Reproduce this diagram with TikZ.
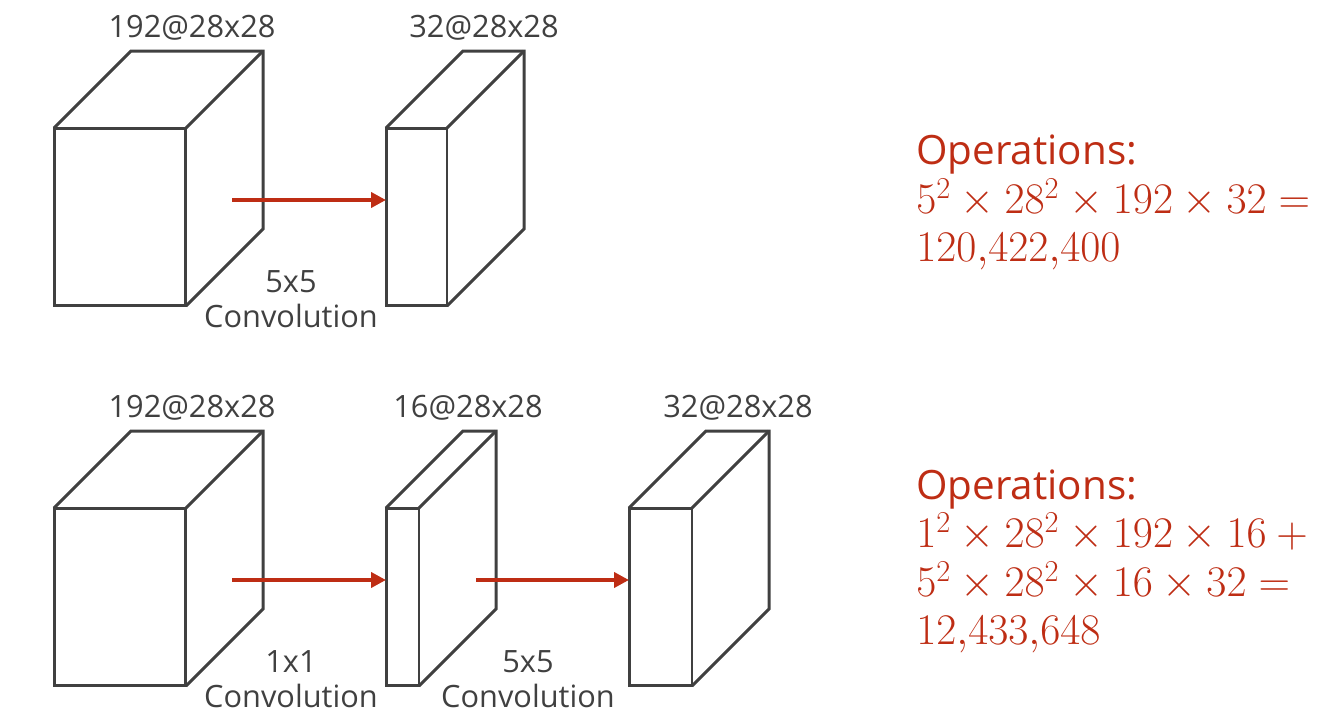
\documentclass[tikz,border=0pt]{standalone}
\usepackage[no-math]{fontspec}
\setmainfont{Open Sans}
\usepackage{amsmath}
\usetikzlibrary{arrows.meta}

\definecolor{linegray}{RGB}{64,64,64}
\definecolor{opred}{RGB}{190,45,20}

\tikzset{
  face/.style={draw=linegray, line width=1.7pt, minimum height=3.56cm, inner sep=0pt, outer sep=0pt},
  edge/.style={draw=linegray, line width=1.7pt},
  flow/.style={draw=opred, line width=2.4pt, -{Triangle[length=0.3cm, width=0.3cm]}},
  dim/.style={text=linegray, font=\fontsize{17.5}{20}\selectfont, anchor=base, inner sep=0pt},
  ops/.style={text=opred, font=\fontsize{23}{27}\selectfont, anchor=base west, inner sep=0pt}
}

\begin{document}
\begin{tikzpicture}[x=0.02cm, y=0.02cm]
  \useasboundingbox (0,0) rectangle (1343,727);

  % top row: one 5x5 convolution
  \node[face, minimum width=2.64cm] (in1) at (120,510) {};
  \draw[edge] (in1.north west) -- ++(77,77) -- ++(132,0) -- ++(0,-178) -- (in1.south east);
  \draw[edge] (in1.north east) -- ++(77,77);
  \node[face, minimum width=1.22cm] (out1) at (416.5,510) {};
  \draw[edge] (out1.north west) -- ++(77,77) -- ++(61,0) -- ++(0,-178) -- (out1.south east);
  \draw[edge] (out1.north east) -- ++(77,77);

  \coordinate (s1) at (232,527);
  \draw[flow] (s1) -- (s1 -| out1.west);

  \node[dim] (in1-dim) at (192,689) {192@28x28};
  \node[dim] (out1-dim) at (484,689) {32@28x28};
  \node[dim] (conv1-k) at (291,434) {5x5};
  \node[dim] (conv1-n) at (291,399) {Convolution};

  % bottom row: 1x1 bottleneck, then 5x5
  \node[face, minimum width=2.64cm] (in2) at (120,130) {};
  \draw[edge] (in2.north west) -- ++(77,77) -- ++(132,0) -- ++(0,-178) -- (in2.south east);
  \draw[edge] (in2.north east) -- ++(77,77);
  \node[face, minimum width=0.66cm] (mid) at (402.5,130) {};
  \draw[edge] (mid.north west) -- ++(77,77) -- ++(33,0) -- ++(0,-178) -- (mid.south east);
  \draw[edge] (mid.north east) -- ++(77,77);
  \node[face, minimum width=1.26cm] (out2) at (660.5,130) {};
  \draw[edge] (out2.north west) -- ++(77,77) -- ++(63,0) -- ++(0,-178) -- (out2.south east);
  \draw[edge] (out2.north east) -- ++(77,77);

  \coordinate (s2) at (232,147);
  \coordinate (s3) at (476,147);
  \draw[flow] (s2) -- (s2 -| mid.west);
  \draw[flow] (s3) -- (s3 -| out2.west);

  \node[dim] (in2-dim) at (192,309) {192@28x28};
  \node[dim] (mid-dim) at (468,309) {16@28x28};
  \node[dim] (out2-dim) at (738,309) {32@28x28};
  \node[dim] (conv2-k) at (291,54) {1x1};
  \node[dim] (conv2-n) at (291,19) {Convolution};
  \node[dim] (conv3-k) at (528,54) {5x5};
  \node[dim] (conv3-n) at (528,19) {Convolution};

  % operation counts
  \node[ops] (ops1) at (916,562) {Operations:};
  \node[ops] (ops1-a) at (916,513) {$5^2\times 28^2\times 192\times 32={}$};
  \node[ops] (ops1-b) at (916,465) {$120{,}422{,}400$};

  \node[ops] (ops2) at (916,227) {Operations:};
  \node[ops] (ops2-a) at (916,179) {$1^2\times 28^2\times 192\times 16+{}$};
  \node[ops] (ops2-b) at (916,130) {$5^2\times 28^2\times 16\times 32={}$};
  \node[ops] (ops2-c) at (916,82) {$12{,}433{,}648$};
\end{tikzpicture}
\end{document}
